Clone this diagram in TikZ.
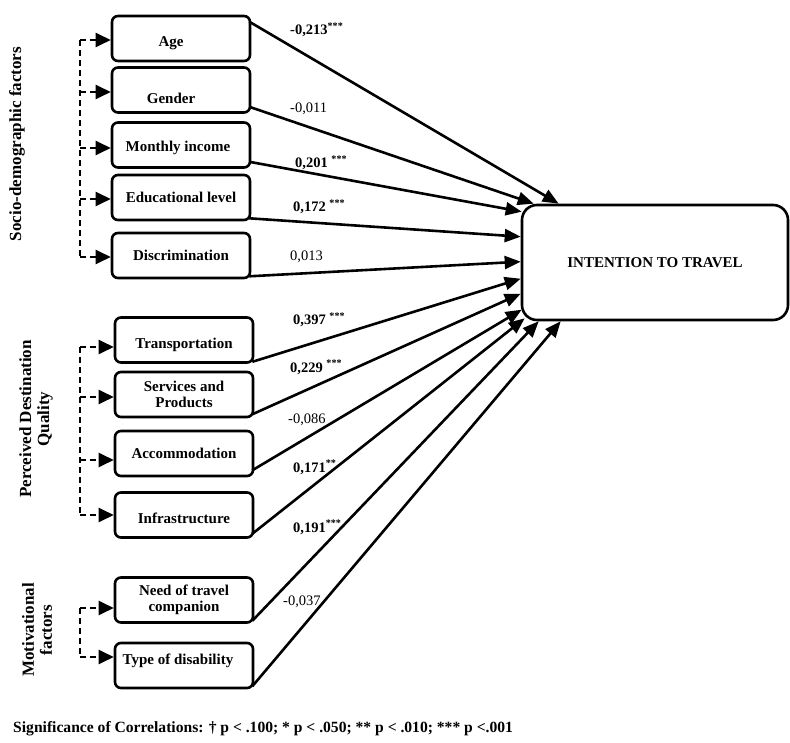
\documentclass[tikz,border=0pt]{standalone}
\usepackage{fontspec}
\setmainfont{Liberation Serif}
\usepackage{tikz}
\usetikzlibrary{arrows.meta}
\usetikzlibrary{positioning,calc}
\tikzset{
    factor/.style={
        draw,
        rectangle,
        rounded corners=6pt,
        line width=2.6pt,
        minimum width=138pt,
        minimum height=45pt,
        align=center,
        font=\fontsize{15}{16.5}\selectfont\bfseries
    },
    outcome/.style={
        draw,
        rectangle,
        rounded corners=15pt,
        line width=2.6pt,
        minimum width=266pt,
        minimum height=115pt,
        font=\fontsize{15}{16}\selectfont\bfseries
    },
    group/.style={
        rotate=90,
        align=center,
        font=\fontsize{17}{18}\selectfont\bfseries
    },
    coef/.style={anchor=base west, inner sep=0pt, font=\fontsize{14.5}{16}\selectfont},
    coefb/.style={coef, font=\fontsize{14.5}{16}\selectfont\bfseries},
    link/.style={
        draw,
        -{Triangle[length=16pt, width=13pt]},
        line width=2.6pt
    },
    brk/.style={dash pattern=on 6pt off 4pt, line width=2.4pt},
    brkarrow/.style={brk, -{Triangle[length=15pt, width=14pt]}}
}
\newcommand{\moved}[3]{\raisebox{#2}[\height][\depth]{#1\hspace*{#3}}}

\begin{document}
\begin{tikzpicture}[x=1pt, y=-1pt]
    \useasboundingbox (0,0) rectangle (790,743);
    % Group labels
    \node[group] (gSocio) at (17,144) {Socio-demographic factors};
    \node[group] (gQual) at (36,419) {Perceived Destination\\Quality};
    \node[group] (gMotiv) at (37,630) {Motivational\\factors};

    % Factors
    \node[factor] (age) at (181,38.5) {\moved{Age}{-5pt}{20pt}};
    \node[factor] (gender) at (181,90) {\moved{Gender}{-8pt}{20pt}};
    \node[factor] (income) at (181,145) {\moved{Monthly income}{-3pt}{6pt}};
    \node[factor] (educ) at (181,197.5) {Educational level};
    \node[factor] (discr) at (181,255.5) {Discrimination};
    \node[factor] (transp) at (184,340) {\moved{Transportation}{-5pt}{0pt}};
    \node[factor] (serv) at (184,394.5) {Services and\\Products};
    \node[factor] (accom) at (184,453.5) {Accommodation};
    \node[factor] (infra) at (184,515) {\moved{Infrastructure}{-3pt}{0pt}};
    \node[factor] (need) at (184,600) {Need of travel\\companion};
    \node[factor] (dis) at (184,665.5) {\moved{Type of disability}{5pt}{12pt}};

    % Outcome
    \node[outcome] (itt) at (655,262.5) {INTENTION TO TRAVEL};

    % Brackets
    \coordinate (bAge) at (80,40);
    \coordinate (bGender) at (80,92);
    \coordinate (bIncome) at (80,148);
    \coordinate (bEduc) at (80,199);
    \coordinate (bDiscr) at (80,257);
    \coordinate (bTransp) at (80,347);
    \coordinate (bServ) at (80,397);
    \coordinate (bAccom) at (80,460);
    \coordinate (bInfra) at (80,515);
    \coordinate (bNeed) at (80,608);
    \coordinate (bDis) at (80,657);
    \draw[brk] (bAge) -- (bDiscr);
    \draw[brk] (bTransp) -- (bInfra);
    \draw[brk] (bNeed) -- (bDis);
    \draw[brkarrow] (bAge) -- (bAge -| age.west);
    \draw[brkarrow] (bGender) -- (bGender -| gender.west);
    \draw[brkarrow] (bIncome) -- (bIncome -| income.west);
    \draw[brkarrow] (bEduc) -- (bEduc -| educ.west);
    \draw[brkarrow] (bDiscr) -- (bDiscr -| discr.west);
    \draw[brkarrow] (bTransp) -- (bTransp -| transp.west);
    \draw[brkarrow] (bServ) -- (bServ -| serv.west);
    \draw[brkarrow] (bAccom) -- (bAccom -| accom.west);
    \draw[brkarrow] (bInfra) -- (bInfra -| infra.west);
    \draw[brkarrow] (bNeed) -- (bNeed -| need.west);
    \draw[brkarrow] (bDis) -- (bDis -| dis.west);

    % Edges
    \draw[link] ([xshift=-2pt,yshift=-7pt]age.north east) -- ($(itt.north west)+(38,0)$);
    \draw[link] ([xshift=-2pt,yshift=7pt]gender.south east) -- ($(itt.north west)+(13,0)$);
    \draw[link] ([xshift=-2pt,yshift=7pt]income.south east) -- ($(itt.north west)+(1,8)$);
    \draw[link] ([xshift=-2pt,yshift=3pt]educ.south east) -- ($(itt.north west)+(0,33)$);
    \draw[link] ([xshift=-2pt,yshift=3pt]discr.south east) -- ($(itt.north west)+(0,58)$);
    \draw[link] ([xshift=-2pt,yshift=2pt]transp.south east) -- ($(itt.north west)+(0,75)$);
    \draw[link] ([xshift=-2pt,yshift=4pt]serv.south east) -- ($(itt.north west)+(0,90)$);
    \draw[link] ([xshift=-2pt,yshift=7pt]accom.south east) -- ($(itt.north west)+(1,106)$);
    \draw[link] ([xshift=-2pt,yshift=5pt]infra.south east) -- ($(itt.south west)+(4,-3)$);
    \draw[link] ([xshift=-2pt,yshift=3pt]need.south east) -- ($(itt.south west)+(18,0)$);
    \draw[link] ([xshift=-2pt,yshift=3pt]dis.south east) -- ($(itt.south west)+(40,0)$);

    % Coefficients
    \node[coefb] (cAge) at (290,35) {-0,213\textsuperscript{***}};
    \node[coef] (cGender) at (290,113) {-0,011};
    \node[coefb] (cIncome) at (295,168) {0,201 \textsuperscript{***}};
    \node[coefb] (cEduc) at (293,212) {0,172 \textsuperscript{***}};
    \node[coef] (cDiscr) at (290,261) {0,013};
    \node[coefb] (cTransp) at (293,325) {0,397 \textsuperscript{***}};
    \node[coefb] (cServ) at (290,372) {0,229 \textsuperscript{***}};
    \node[coef] (cAccom) at (288,423) {-0,086};
    \node[coefb] (cInfra) at (293,472) {0,171\textsuperscript{**}};
    \node[coefb] (cNeed) at (293,532) {0,191\textsuperscript{***}};
    \node[coef] (cDis) at (283,605) {-0,037};

    % Note
    \node[anchor=base west, inner sep=0pt, font=\fontsize{15.6}{17}\selectfont\bfseries] (sig) at (13,732)
        {Significance of Correlations: † p < .100; * p < .050; ** p < .010; *** p <.001};
\end{tikzpicture}
\end{document}
